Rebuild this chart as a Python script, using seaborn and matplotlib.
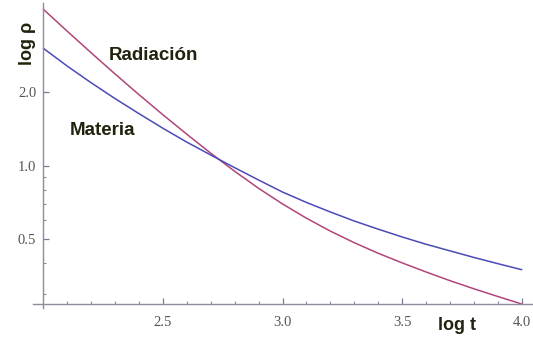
import matplotlib
matplotlib.use("Agg")
import matplotlib.pyplot as plt
import numpy as np
import pandas as pd
import seaborn as sns
from matplotlib.ticker import FixedLocator, NullFormatter

# ---- data ----
log_t = [2.0, 2.1, 2.2, 2.3, 2.4, 2.5, 2.6, 2.7, 2.8, 2.9, 3.0,
         3.1, 3.2, 3.3, 3.4, 3.5, 3.6, 3.7, 3.8, 3.9, 4.0]
rho_radiacion = [4.384, 3.565, 2.908, 2.381, 1.959, 1.621, 1.349, 1.128, 0.951, 0.810, 0.699,
                 0.611, 0.541, 0.485, 0.439, 0.401, 0.368, 0.339, 0.314, 0.292, 0.272]
rho_materia = [3.034, 2.565, 2.192, 1.888, 1.638, 1.427, 1.252, 1.109, 0.984, 0.876, 0.782,
               0.709, 0.648, 0.595, 0.551, 0.512, 0.478, 0.449, 0.422, 0.398, 0.376]

x_ticks = [2.5, 3.0, 3.5, 4.0]
x_tick_labels = ["2.5", "3.0", "3.5", "4.0"]
y_ticks = [0.5, 1.0, 2.0]
y_tick_labels = ["0.5", "1.0", "2.0"]
x_minor = [2.1, 2.2, 2.3, 2.4, 2.6, 2.7, 2.8, 2.9, 3.1, 3.2, 3.3, 3.4, 3.6, 3.7, 3.8, 3.9]
y_minor = [0.3, 0.4, 0.6, 0.7, 0.8, 0.9]

df = pd.concat([
    pd.DataFrame({"log_t": log_t, "rho": rho_radiacion, "serie": "Radiación"}),
    pd.DataFrame({"log_t": log_t, "rho": rho_materia, "serie": "Materia"}),
])

sns.set_style("white")
fig = plt.figure(figsize=(5.33, 3.39), dpi=100)
ax = fig.add_axes([33 / 533, 1 - 308 / 339, 500 / 533, 305 / 339])
ax.patch.set_alpha(0)

sns.lineplot(data=df, x="log_t", y="rho", hue="serie",
             palette={"Radiación": "#b0457a", "Materia": "#4a4ab8"},
             sort=False, estimator=None, legend=False, linewidth=1.1, ax=ax)

ax.set_yscale("log")
ax.set_xlim(1.957, 4.047)
ax.set_ylim(0.262, 4.65)

for s in ["top", "right"]:
    ax.spines[s].set_visible(False)
axis_color = "#8e8e9a"
ax.spines["left"].set_position(("data", 2.0))
ax.spines["bottom"].set_position(("data", 0.273))
for s in ["left", "bottom"]:
    ax.spines[s].set_color(axis_color)
    ax.spines[s].set_linewidth(1.0)

ax.xaxis.set_major_locator(FixedLocator(x_ticks))
ax.set_xticklabels(x_tick_labels)
ax.xaxis.set_minor_locator(FixedLocator(x_minor))
ax.yaxis.set_major_locator(FixedLocator(y_ticks))
ax.set_yticklabels(y_tick_labels)
ax.yaxis.set_minor_locator(FixedLocator(y_minor))
ax.yaxis.set_minor_formatter(NullFormatter())

ax.tick_params(which="both", bottom=True, left=True, top=False, right=False)
ax.tick_params(which="major", direction="in", length=4.5, width=0.9, color="#7a7a98",
               labelcolor="#555555", labelsize=10.5)
ax.tick_params(which="minor", direction="in", length=2.5, width=0.8, color="#8a8aaa")
ax.tick_params(axis="x", which="major", pad=9)
ax.tick_params(axis="y", which="major", pad=5)
for lab in ax.get_xticklabels() + ax.get_yticklabels():
    lab.set_fontfamily("Liberation Serif")

ax.set_xlabel("")
ax.set_ylabel("")

txt_color = "#22220f"
W, H = 533, 339
fig.text(153 / W, 1 - 55 / H, "Radiación", ha="center", va="center",
         fontsize=13.5, fontweight="bold", family="Liberation Sans", color=txt_color)
fig.text(102.5 / W, 1 - 130 / H, "Materia", ha="center", va="center",
         fontsize=13.5, fontweight="bold", family="Liberation Sans", color=txt_color)
fig.text(457 / W, 1 - 325 / H, "log t", ha="center", va="center",
         fontsize=13, fontweight="bold", family="Liberation Sans", color=txt_color)
fig.text(28 / W, 1 - 43 / H, "log ρ", ha="center", va="center", rotation=90,
         fontsize=13, fontweight="bold", family="Liberation Sans", color=txt_color)

fig.savefig("out.png", dpi=100)
